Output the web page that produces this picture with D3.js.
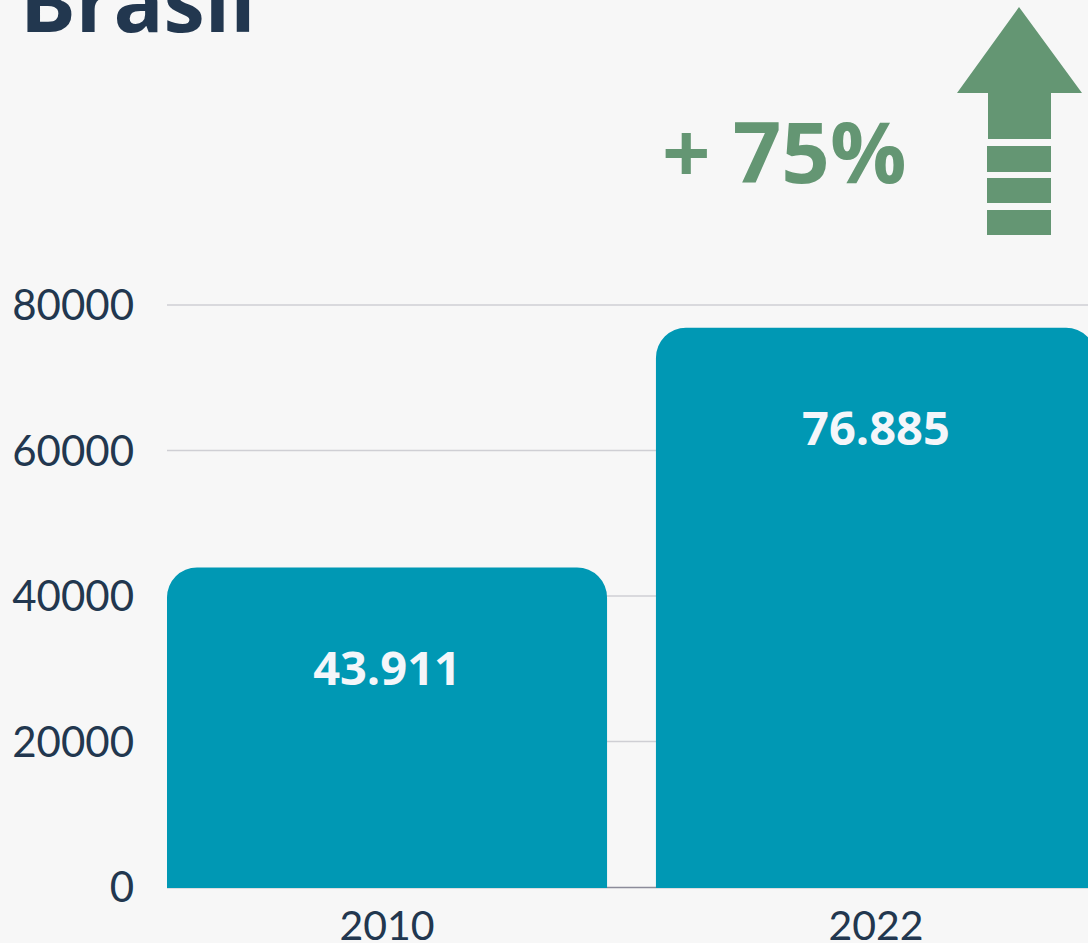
<!DOCTYPE html>
<html>
<head>
<meta charset="utf-8">
<script src="https://cdn.jsdelivr.net/npm/d3@7"></script>
<style>
  html, body { margin: 0; padding: 0; background: #f7f7f7; overflow: hidden; }
  svg { display: block; }
</style>
</head>
<body>
<div id="chart"></div>
<script>
// Brasil — two years, one rounded bar each, growth badge up top.

const years = ["2010", "2022"];
const totals = [43911, 76885];
const yTicks = [0, 20000, 40000, 60000, 80000];
const valueLabels = ["43.911", "76.885"];
const title = "Brasil";
const growthLabel = "+ 75%";

const W = 1088, H = 943;
const margin = { top: 305, right: -8, bottom: 56, left: 167 };
const BAR = "#0098b4", INK = "#22374f", GREEN = "#649673";

const svg = d3.select("#chart").append("svg")
  .attr("width", W).attr("height", H)
  .attr("viewBox", `0 0 ${W} ${H}`);

const x = d3.scaleBand().domain(years)
  .range([margin.left, W - margin.right])
  .paddingInner(0.1).paddingOuter(0);
const y = d3.scaleLinear().domain([0, 80000]).range([H - margin.bottom, margin.top]);

// gridlines
svg.append("g").selectAll("line").data(yTicks.filter(d => d > 0)).join("line")
  .attr("x1", margin.left).attr("x2", W)
  .attr("y1", d => y(d)).attr("y2", d => y(d))
  .attr("stroke", "#cfcfd4").attr("stroke-width", 1.5);

// baseline (only shows between bars)
svg.append("line")
  .attr("x1", margin.left).attr("x2", W)
  .attr("y1", y(0) + 0.5).attr("y2", y(0) + 0.5)
  .attr("stroke", "#8c8c9a").attr("stroke-width", 1.5);

// y tick labels
svg.append("g").selectAll("text").data(yTicks).join("text")
  .attr("x", 134).attr("y", d => y(d))
  .attr("dy", "0.36em")
  .attr("text-anchor", "end")
  .attr("font-family", "Lato, sans-serif")
  .attr("font-size", 42)
  .attr("fill", INK)
  .text(d => d);

// bars, top corners rounded
const r = 30;
function topRounded(x0, w, yTop, yBase) {
  return `M${x0},${yBase}V${yTop + r}A${r},${r} 0 0 1 ${x0 + r},${yTop}` +
         `H${x0 + w - r}A${r},${r} 0 0 1 ${x0 + w},${yTop + r}V${yBase}Z`;
}
const rows = years.map((yr, i) => ({ year: yr, value: totals[i], label: valueLabels[i] }));

svg.append("g").selectAll("path").data(rows).join("path")
  .attr("d", d => topRounded(x(d.year), x.bandwidth(), y(d.value), y(0) + 1))
  .attr("fill", BAR);

// value labels inside bars
svg.append("g").selectAll("text").data(rows).join("text")
  .attr("x", d => x(d.year) + x.bandwidth() / 2)
  .attr("y", d => y(d.value) + 117)
  .attr("text-anchor", "middle")
  .attr("font-family", "'Open Sans', sans-serif")
  .attr("font-weight", 700)
  .attr("font-size", 47)
  .attr("fill", "#f4f6fa")
  .text(d => d.label);

// x labels
svg.append("g").selectAll("text").data(years).join("text")
  .attr("x", d => x(d) + x.bandwidth() / 2)
  .attr("y", 940)
  .attr("text-anchor", "middle")
  .attr("font-family", "Lato, sans-serif")
  .attr("font-size", 41)
  .attr("fill", INK)
  .text(d => d);

// title, cut off at the top edge
svg.append("text")
  .attr("x", 20).attr("y", 32)
  .attr("font-family", "'Open Sans', sans-serif")
  .attr("font-weight", 700)
  .attr("font-size", 83)
  .attr("fill", INK)
  .text(title);

// growth badge
svg.append("text")
  .attr("x", 662).attr("y", 183)
  .attr("font-family", "'Open Sans', sans-serif")
  .attr("font-weight", 700)
  .attr("font-size", 85)
  .attr("fill", GREEN)
  .text(growthLabel);

const arrow = svg.append("g").attr("fill", GREEN);
arrow.append("path")
  .attr("d", "M1019,7L1082,93H1051V139H988V93H957Z");
[[146, 172], [178, 203], [210, 235]].forEach(([a, b]) => {
  arrow.append("rect").attr("x", 987).attr("y", a).attr("width", 64).attr("height", b - a);
});
</script>
</body>
</html>
